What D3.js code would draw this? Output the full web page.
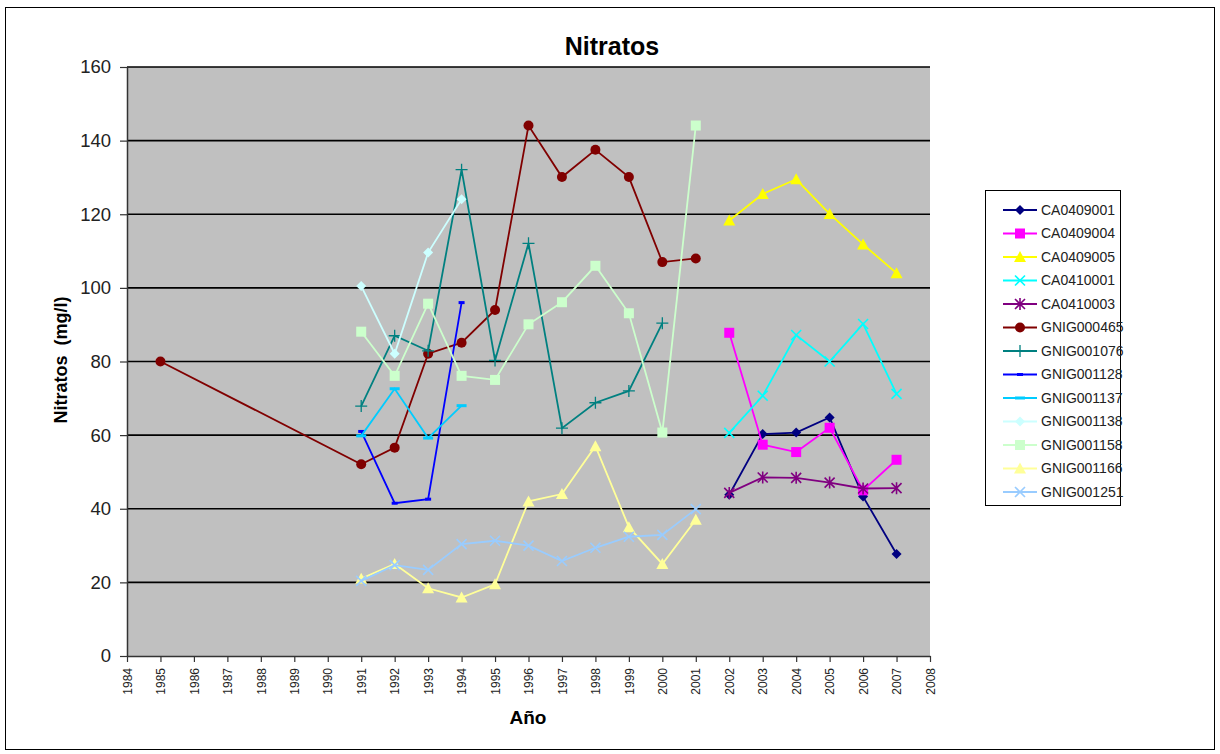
<!DOCTYPE html>
<html>
<head>
<meta charset="utf-8">
<script src="https://cdn.jsdelivr.net/npm/d3@7"></script>
<style>
  html, body { margin: 0; padding: 0; background: #fff; }
  svg { display: block; font-family: "Liberation Sans", Arial, sans-serif; }
</style>
</head>
<body>
<svg id="chart" width="1220" height="754"></svg>
<script>
// ---- Data ----
const seriesNames = ["CA0409001","CA0409004","CA0409005","CA0410001","CA0410003","GNIG000465","GNIG001076","GNIG001128","GNIG001137","GNIG001138","GNIG001158","GNIG001166","GNIG001251"];
const yearsA = [2002,2003,2004,2005,2006,2007];
const CA0409001 = [43.8,60.3,60.7,64.8,43.3,27.7];
const CA0409004 = [87.8,57.4,55.4,62.0,45.0,53.3];
const CA0409005 = [118.3,125.5,129.5,120.1,111.8,104.0];
const CA0410001 = [60.6,70.7,87.2,80.0,90.2,71.2];
const CA0410003 = [44.3,48.5,48.4,47.1,45.5,45.6];
const yearsG465 = [1985,1991,1992,1993,1994,1995,1996,1997,1998,1999,2000,2001];
const GNIG000465 = [80,52.1,56.6,82.1,85.1,94.0,144.1,130.1,137.5,130.1,107.0,108.0];
const yearsG1076 = [1991,1992,1993,1994,1995,1996,1997,1998,1999,2000];
const GNIG001076 = [67.9,87.0,82.9,132.1,80.3,112.1,61.9,68.8,72.0,90.4];
const yearsShort = [1991,1992,1993,1994];
const GNIG001128 = [61.0,41.5,42.6,96.0];
const GNIG001137 = [59.8,72.6,59.2,68.0];
const GNIG001138 = [100.5,82.1,109.6,124.1];
const yearsLong = [1991,1992,1993,1994,1995,1996,1997,1998,1999,2000,2001];
const GNIG001158 = [88.1,76.1,95.7,76.1,75.0,90.1,96.1,106.0,93.1,60.7,144.1];
const GNIG001166 = [21.0,25.0,18.4,15.9,19.5,42.0,44.0,57.0,35.0,25.0,37.0];
const GNIG001251 = [20.4,24.7,23.4,30.4,31.3,30.0,25.8,29.4,32.4,32.9,39.9];
const yearTicks = d3.range(1984, 2009);
const valueTicks = [0,20,40,60,80,100,120,140,160];

const seriesColors = ["#000080","#FF00FF","#FFFF00","#00FFFF","#800080","#800000","#008080","#0000FF","#00CCFF","#CCFFFF","#CCFFCC","#FFFF99","#99CCFF"];
const seriesMarkers = ["diamond","square","triangle","x","star","circle","plus","dashS","dashL","diamond","square","triangle","x"];
const seriesYears = [yearsA,yearsA,yearsA,yearsA,yearsA,yearsG465,yearsG1076,yearsShort,yearsShort,yearsShort,yearsLong,yearsLong,yearsLong];
const seriesValues = [CA0409001,CA0409004,CA0409005,CA0410001,CA0410003,GNIG000465,GNIG001076,GNIG001128,GNIG001137,GNIG001138,GNIG001158,GNIG001166,GNIG001251];

const series = seriesNames.map((n,i)=>({
  name:n, color:seriesColors[i], marker:seriesMarkers[i],
  pts: seriesYears[i].map((y,j)=>({year:y, value:seriesValues[i][j]}))
}));

// ---- Layout ----
const svg = d3.select("#chart");
const plot = {left:127, right:930, top:67, bottom:656};

svg.append("rect").attr("x",5.5).attr("y",7.5).attr("width",1209).attr("height",742)
  .attr("fill","#fff").attr("stroke","#000").attr("stroke-width",1);

const x = d3.scaleLinear().domain([1984,2008]).range([plot.left, plot.right]);
const y = d3.scaleLinear().domain([0,160]).range([plot.bottom, plot.top]);

svg.append("rect").attr("x",plot.left).attr("y",plot.top)
  .attr("width",plot.right-plot.left).attr("height",plot.bottom-plot.top)
  .attr("fill","#C0C0C0");

// gridlines
svg.append("g").selectAll("line").data(valueTicks.filter(v=>v>0)).join("line")
  .attr("x1",plot.left).attr("x2",plot.right)
  .attr("y1",d=>y(d)).attr("y2",d=>y(d))
  .attr("stroke","#000").attr("stroke-width",1.6);

// Y axis
const yAxis = svg.append("g").attr("transform",`translate(${plot.left},0)`)
  .call(d3.axisLeft(y).tickValues(valueTicks).tickSize(7).tickSizeOuter(0).tickPadding(9));
yAxis.select(".domain").attr("stroke","#333").attr("stroke-width",1.5);
yAxis.selectAll(".tick line").attr("stroke","#333").attr("stroke-width",1.2);
yAxis.selectAll("text").attr("font-size",18.5).attr("fill","#222")
  .attr("font-family","'Liberation Sans', Arial, sans-serif");

// X axis
const xAxis = svg.append("g").attr("transform",`translate(0,${plot.bottom})`)
  .call(d3.axisBottom(x).tickValues(yearTicks).tickFormat(d3.format("d")).tickSize(6).tickSizeOuter(0));
xAxis.select(".domain").attr("stroke","#333").attr("stroke-width",1.5);
xAxis.selectAll(".tick line").attr("stroke","#333").attr("stroke-width",1.2);
xAxis.selectAll("text")
  .attr("font-size",12).attr("fill","#222")
  .attr("font-family","'Liberation Sans', Arial, sans-serif")
  .attr("text-anchor","end").attr("dy","0.35em")
  .attr("transform","translate(0,12) rotate(-90)")
  .attr("x",0).attr("y",0);

// Titles
svg.append("text").attr("x",612).attr("y",55).attr("text-anchor","middle")
  .attr("font-size",25).attr("font-weight","bold").attr("fill","#000").text("Nitratos");
svg.append("text").attr("x",528).attr("y",724).attr("text-anchor","middle")
  .attr("font-size",19).attr("font-weight","bold").attr("fill","#000").text("Año");
svg.append("text").attr("transform","translate(67,360) rotate(-90)").attr("text-anchor","middle")
  .attr("font-size",18).attr("font-weight","bold").attr("fill","#000")
  .attr("xml:space","preserve").style("white-space","pre").text("Nitratos  (mg/l)");

// Marker drawing
function drawMarker(g, type, color, cx, cy){
  const t = `translate(${cx},${cy})`;
  if (type==="diamond"){
    g.append("path").attr("transform",t).attr("d","M0,-5L5,0L0,5L-5,0Z").attr("fill",color);
  } else if (type==="square"){
    g.append("rect").attr("x",cx-5).attr("y",cy-5).attr("width",10).attr("height",10).attr("fill",color);
  } else if (type==="triangle"){
    g.append("path").attr("transform",t).attr("d","M0,-6L6,5L-6,5Z").attr("fill",color);
  } else if (type==="circle"){
    g.append("circle").attr("cx",cx).attr("cy",cy).attr("r",5).attr("fill",color);
  } else if (type==="x"){
    g.append("path").attr("transform",t).attr("d","M-5,-5L5,5M-5,5L5,-5").attr("stroke",color).attr("stroke-width",1.6).attr("fill","none");
  } else if (type==="star"){
    g.append("path").attr("transform",t).attr("d","M-5,-5L5,5M-5,5L5,-5M0,-6L0,6").attr("stroke",color).attr("stroke-width",1.6).attr("fill","none");
  } else if (type==="plus"){
    g.append("path").attr("transform",t).attr("d","M-6,0L6,0M0,-6L0,6").attr("stroke",color).attr("stroke-width",1.3).attr("fill","none");
  } else if (type==="dashS"){
    g.append("rect").attr("x",cx-3).attr("y",cy-1.5).attr("width",6).attr("height",3).attr("fill",color);
  } else if (type==="dashL"){
    g.append("rect").attr("x",cx-5).attr("y",cy-1.5).attr("width",10).attr("height",3).attr("fill",color);
  }
}

const line = d3.line().x(d=>x(d.year)).y(d=>y(d.value));
const gs = svg.append("g");
series.forEach(s=>{
  const g = gs.append("g");
  g.append("path").datum(s.pts).attr("d",line).attr("fill","none")
    .attr("stroke",s.color).attr("stroke-width",1.8);
  s.pts.forEach(p=>drawMarker(g, s.marker, s.color, x(p.year), y(p.value)));
});

// Legend
const lg = svg.append("g");
lg.append("rect").attr("x",985.5).attr("y",190.5).attr("width",135).attr("height",315)
  .attr("fill","#fff").attr("stroke","#000").attr("stroke-width",1);
series.forEach((s,i)=>{
  const ly = 210 + i*23.5;
  lg.append("line").attr("x1",1003).attr("x2",1037).attr("y1",ly).attr("y2",ly)
    .attr("stroke",s.color).attr("stroke-width",1.8);
  drawMarker(lg, s.marker, s.color, 1020, ly);
  lg.append("text").attr("x",1041).attr("y",ly).attr("dy","0.35em")
    .attr("font-size",14).attr("fill","#222").text(s.name);
});
</script>
</body>
</html>
